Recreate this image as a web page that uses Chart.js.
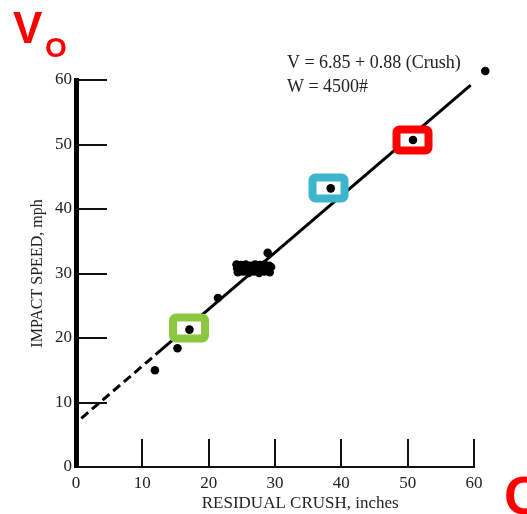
<!DOCTYPE html>
<html>
<head>
<meta charset="utf-8">
<script src="https://cdn.jsdelivr.net/npm/chart.js@4"></script>
<style>
html,body{margin:0;padding:0;background:#fff;}
#wrap{width:527px;height:514px;position:relative;}
</style>
</head>
<body>
<div id="wrap"><canvas id="c" width="527" height="514"></canvas></div>
<script>
// Data
const crush = [11.9, 15.3, 17.1, 21.4,
  24.2, 24.9, 25.6, 26.3, 27.0, 27.7, 28.4, 29.1, 29.4,
  24.3, 25.1, 25.9, 26.7, 27.5, 28.3, 29.1,
  24.4, 25.2, 26.0, 26.8, 27.6, 28.4, 29.2,
  28.9, 38.4, 50.8, 61.7];
const speed = [15.0, 18.4, 21.3, 26.2,
  31.4, 31.3, 31.4, 31.2, 31.4, 31.3, 31.4, 31.2, 31.0,
  30.8, 30.8, 30.7, 30.8, 30.7, 30.8, 30.7,
  30.2, 30.3, 30.1, 30.3, 30.1, 30.3, 30.2,
  33.2, 43.2, 50.7, 61.4];
const fitSolidX = [12.0, 59.5];
const fitSolidY = [17.41, 59.21];
const fitDashX = [0.8, 12.0];
const fitDashY = [7.55, 17.41];
const axisTicks = [0, 10, 20, 30, 40, 50, 60];
const highlightX = [17.04, 38.07, 50.73];
const highlightY = [21.55, 43.26, 50.70];
const highlightColors = ['#8DC63F', '#3DB5CD', '#FF0000'];
const equationLines = ['V = 6.85 + 0.88 (Crush)', 'W = 4500#'];
const xTitle = 'RESIDUAL CRUSH, inches';
const yTitle = 'IMPACT SPEED, mph';

const pts = crush.map((x, i) => ({x: x, y: speed[i]}));
const solid = fitSolidX.map((x, i) => ({x: x, y: fitSolidY[i]}));
const dashed = fitDashX.map((x, i) => ({x: x, y: fitDashY[i]}));

const serif = '"Liberation Serif", "DejaVu Serif", serif';

const decor = {
  id: 'decor',
  beforeDatasetDraw(chart, args) {
    if (args.index !== 0) return;
    const ctx = chart.ctx;
    const xs = chart.scales.x, ys = chart.scales.y;
    ctx.save();
    highlightX.forEach((v, i) => {
      const cx = xs.getPixelForValue(v), cy = ys.getPixelForValue(highlightY[i]);
      const w = 32, h = 21, r = 3;
      ctx.beginPath();
      ctx.roundRect(cx - w / 2, cy - h / 2, w, h, r);
      ctx.fillStyle = '#fff';
      ctx.fill();
      ctx.lineWidth = 8;
      ctx.strokeStyle = highlightColors[i];
      ctx.stroke();
    });
    ctx.restore();
  },
  afterDatasetsDraw(chart) {
    // points lying beyond the axis range (library skips them otherwise)
    const meta = chart.getDatasetMeta(0);
    const a = chart.chartArea;
    const full = {left: 0, top: 0, right: chart.width, bottom: chart.height};
    meta.data.forEach(el => {
      if (el.x > a.right || el.y < a.top) el.draw(chart.ctx, full);
    });
  },
  afterDraw(chart) {
    const ctx = chart.ctx;
    const xs = chart.scales.x, ys = chart.scales.y;
    const a = chart.chartArea;
    ctx.save();
    // inward tick marks
    ctx.strokeStyle = '#111';
    ctx.lineWidth = 2;
    axisTicks.forEach(v => {
      if (v === 0) return;
      const px = Math.round(xs.getPixelForValue(v));
      ctx.beginPath(); ctx.moveTo(px, a.bottom); ctx.lineTo(px, a.bottom - 28); ctx.stroke();
      const py = Math.round(ys.getPixelForValue(v));
      ctx.beginPath(); ctx.moveTo(a.left, py); ctx.lineTo(a.left + 31, py); ctx.stroke();
    });
    // equation text
    ctx.fillStyle = '#222';
    ctx.font = '18px ' + serif;
    ctx.textAlign = 'left';
    ctx.textBaseline = 'middle';
    ctx.fillText(equationLines[0], xs.getPixelForValue(31.8), ys.getPixelForValue(62.6));
    ctx.fillText(equationLines[1], xs.getPixelForValue(31.8), ys.getPixelForValue(58.8));
    // x title
    ctx.textAlign = 'center';
    ctx.font = '17px ' + serif;
    ctx.fillText(xTitle, xs.getPixelForValue(33.8), a.bottom + 37);
    // red labels
    ctx.fillStyle = '#FF0000';
    ctx.textAlign = 'left';
    ctx.textBaseline = 'alphabetic';
    ctx.font = 'bold 44px "Liberation Sans", Arial, sans-serif';
    ctx.fillText('V', 13, 43);
    ctx.font = 'bold 28px "Liberation Sans", Arial, sans-serif';
    ctx.fillText('O', 45, 57);
    ctx.font = 'bold 54px "Liberation Sans", Arial, sans-serif';
    ctx.fillText('C', 504, 514);
    ctx.restore();
  }
};

new Chart(document.getElementById('c'), {
  type: 'scatter',
  data: {
    datasets: [
      {data: pts, backgroundColor: '#000', borderWidth: 0, pointRadius: 4.3, order: 1, clip: false},
      {type: 'line', data: solid, borderColor: '#000', borderWidth: 3, pointRadius: 0, fill: false, order: 2},
      {type: 'line', data: dashed, borderColor: '#000', borderWidth: 3, borderDash: [9, 5], pointRadius: 0, fill: false, order: 3}
    ]
  },
  options: {
    responsive: false,
    animation: false,
    events: [],
    layout: {padding: {left: 0, top: 80, right: 53, bottom: 0}},
    plugins: {legend: {display: false}, tooltip: {enabled: false}},
    scales: {
      x: {
        type: 'linear', min: 0, max: 60,
        ticks: {stepSize: 10, color: '#222', font: {family: serif, size: 17}, padding: 6},
        grid: {display: false, drawTicks: false},
        border: {display: true, color: '#111', width: 2},
        afterFit(s) { s.height = 47; s.paddingLeft = 0; s.paddingRight = 0; s.paddingTop = 0; s.paddingBottom = 0; }
      },
      y: {
        type: 'linear', min: 0, max: 60,
        ticks: {stepSize: 10, color: '#222', font: {family: serif, size: 17}, padding: 4},
        grid: {display: false, drawTicks: false},
        border: {display: true, color: '#000', width: 5},
        title: {display: true, text: yTitle, color: '#222', font: {family: serif, size: 16}, padding: {top: 28, bottom: 0}},
        afterFit(s) { s.width = 76; s.paddingLeft = 0; s.paddingRight = 0; s.paddingTop = 0; s.paddingBottom = 0; }
      }
    }
  },
  plugins: [decor]
});
</script>
</body>
</html>
